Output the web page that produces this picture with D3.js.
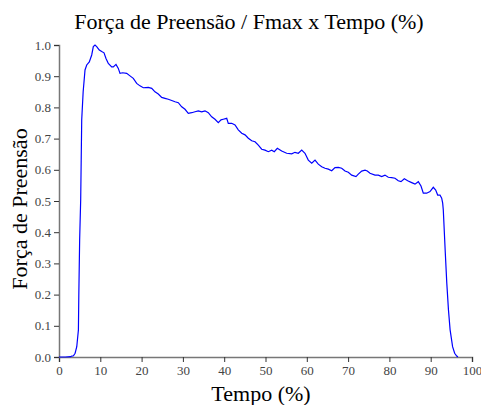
<!DOCTYPE html>
<html>
<head>
<meta charset="utf-8">
<style>
  body {margin: 0; background: #fff; font-family: "Liberation Serif", "Times New Roman", serif;}
</style>
<script src="https://d3js.org/d3.v7.min.js"></script>
</head>
<body>
<div id="chart"></div>
<script>

  // values
  const tempo = [0, 1.5, 2.8, 3.1, 3.5, 3.9, 4.3, 4.5, 4.7, 4.8, 5.0, 5.25, 5.5, 5.85,
    6.30, 6.71, 7.34, 7.92, 8.31, 8.72, 9.13, 9.76, 10.34, 10.90, 11.38, 11.94, 12.76, 13.15, 13.80,
    14.36, 14.77, 15.42, 16.39, 17.19, 17.99, 18.81, 19.61, 20.41, 21.62, 22.45, 23.24, 24.04, 24.87,
    25.67, 26.46, 27.29, 28.09, 28.89, 29.71, 30.51, 31.31, 32.13, 32.93, 33.73, 34.55, 35.35, 36.15,
    36.97, 37.77, 38.57, 39.23, 39.78, 40.61, 40.99, 41.82, 42.62, 43.41, 44.24, 45.04, 45.84, 46.66,
    47.46, 48.26, 49.08, 49.88, 50.68, 51.50, 52.13, 52.86, 53.92, 55.13, 56.34, 57.14, 57.94, 58.77,
    59.56, 60.36, 61.19, 61.99, 62.78, 63.61, 64.41, 65.21, 66.03, 66.83, 67.63, 68.45, 69.25, 70.05,
    70.87, 71.91, 72.47, 73.29, 74.09, 74.65, 75.30, 76.51, 77.31, 78.14, 78.93, 79.73, 80.56, 81.36,
    82.15, 82.81, 83.61, 84.43, 85.40, 86.20, 87.00, 87.65, 88.21, 89.03, 89.83, 90.63, 91.21, 91.69,
    92.25, 92.66, 92.90, 93.05, 93.5, 93.9, 94.3, 94.7, 95.3, 95.8, 96.3, 96.6]
  const forca = [0, 0, 0.001, 0.003, 0.004, 0.012, 0.033, 0.06, 0.087, 0.2, 0.375, 0.503, 0.76, 0.85,
    0.920, 0.936, 0.946, 0.968, 0.995, 1.0, 0.995, 0.984, 0.979, 0.975, 0.957, 0.941, 0.930, 0.930, 0.938,
    0.925, 0.909, 0.911, 0.909, 0.901, 0.893, 0.877, 0.869, 0.863, 0.864, 0.861, 0.850, 0.843, 0.832,
    0.829, 0.826, 0.822, 0.818, 0.815, 0.802, 0.794, 0.781, 0.783, 0.786, 0.789, 0.786, 0.789, 0.783,
    0.770, 0.762, 0.751, 0.760, 0.762, 0.765, 0.749, 0.749, 0.744, 0.728, 0.717, 0.712, 0.701, 0.693,
    0.690, 0.679, 0.666, 0.663, 0.658, 0.663, 0.658, 0.669, 0.660, 0.653, 0.651, 0.656, 0.653, 0.663,
    0.653, 0.631, 0.621, 0.631, 0.618, 0.610, 0.605, 0.602, 0.597, 0.607, 0.608, 0.605, 0.596, 0.592,
    0.583, 0.578, 0.586, 0.596, 0.599, 0.596, 0.589, 0.583, 0.583, 0.578, 0.583, 0.576, 0.575, 0.573,
    0.565, 0.562, 0.571, 0.565, 0.559, 0.554, 0.562, 0.548, 0.525, 0.525, 0.530, 0.544, 0.535, 0.519,
    0.519, 0.509, 0.493, 0.471, 0.343, 0.236, 0.151, 0.087, 0.033, 0.012, 0.003, 0]

  const xTicks = [0, 10, 20, 30, 40, 50, 60, 70, 80, 90, 100]
  const yTicks = [0, 0.1, 0.2, 0.3, 0.4, 0.5, 0.6, 0.7, 0.8, 0.9, 1.0]

  const width = 481
  const height = 405
  const margin = {top: 45, right: 9, bottom: 48, left: 59}
  const serif = '"Liberation Serif", "Times New Roman", serif'

  const svg = d3.select('#chart').append('svg')
    .attr('width', width)
    .attr('height', height)
    .attr('font-family', serif)

  const x = d3.scaleLinear().domain([0, 100]).range([margin.left, width - margin.right])
  const y = d3.scaleLinear().domain([0, 1]).range([height - margin.bottom, margin.top])

  // x axis, minor then major ticks
  const gx = svg.append('g')
    .attr('transform', 'translate(0,' + y(0) + ')')
  gx.call(d3.axisBottom(x).tickValues(d3.range(5, 100, 10)).tickSize(3).tickFormat(''))
  gx.call(d3.axisBottom(x).tickValues(xTicks).tickSize(5).tickFormat(d3.format('d')).tickPadding(4))

  const gy = svg.append('g')
    .attr('transform', 'translate(' + x(0) + ',0)')
  gy.call(d3.axisLeft(y).tickValues(d3.range(0.05, 1, 0.1)).tickSize(3).tickFormat(''))
  gy.call(d3.axisLeft(y).tickValues(yTicks).tickSize(5).tickFormat(d3.format('.1f')).tickPadding(3))

  gx.attr('font-family', serif).attr('font-size', 13)
  gy.attr('font-family', serif).attr('font-size', 13)

  svg.selectAll('.domain').attr('stroke', '#777').attr('stroke-width', 1.5)
  svg.selectAll('.tick line').attr('stroke', '#333')
  svg.selectAll('.tick text')
    .attr('fill', '#444')
    .style('font-family', 'Liberation Serif')

  // the curve
  const line = d3.line()
    .x((d, i) => x(tempo[i]))
    .y(d => y(d))

  svg.append('path')
    .datum(forca)
    .attr('d', line)
    .attr('fill', 'none')
    .attr('stroke', '#0000ff')
    .attr('stroke-width', 1.2)

  svg.append('text')
    .attr('x', 249)
    .attr('y', 29)
    .attr('text-anchor', 'middle')
    .style('font-size', '22px')
    .text('Força de Preensão / Fmax x Tempo (%)')

  svg.append('text')
    .attr('x', 261)
    .attr('y', 401)
    .attr('text-anchor', 'middle')
    .style('font-size', '22px')
    .text('Tempo (%)')

  svg.append('text')
    .attr('transform', 'translate(27,209) rotate(-90)')
    .attr('text-anchor', 'middle')
    .style('font-size', '22px')
    .text('Força de Preensão')

</script>
</body>
</html>
